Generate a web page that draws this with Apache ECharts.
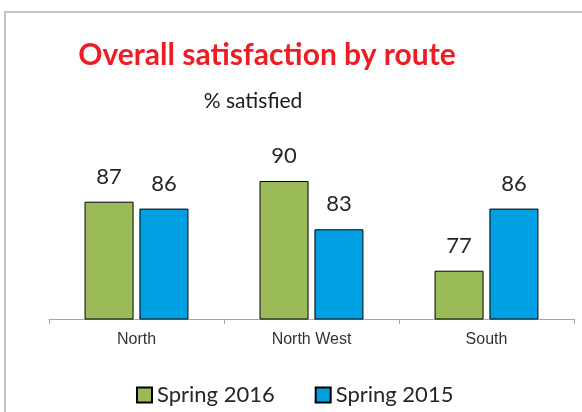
<!DOCTYPE html>
<html><head><meta charset="utf-8">
<script src="https://cdn.jsdelivr.net/npm/echarts@6/dist/echarts.min.js"></script>
<style>html,body{margin:0;padding:0;background:#fff}#c{width:582px;height:412px}</style>
</head><body><div id="c"></div>
<script>
const categories = ['North', 'North West', 'South'];
const spring2016 = [87, 90, 77];
const spring2015 = [86, 83, 86];
const seriesNames = ['Spring 2016', 'Spring 2015'];

const chart = echarts.init(document.getElementById('c'));
const lbl = {show: true, position: 'top', distance: 14, fontFamily: 'Lato', fontSize: 22, color: '#262626'};
chart.setOption({
  animation: false,
  graphic: [{type: 'rect', shape: {x: 5, y: 12, width: 700, height: 600}, style: {fill: 'none', stroke: '#c3c3c3', lineWidth: 2}, z: -1}],
  title: [
    {text: 'Overall satisfaction by route', left: 262, top: 35, textAlign: 'center',
     textStyle: {fontFamily: 'Lato', fontWeight: 'bold', fontSize: 30, color: '#ee1c25'}},
    {text: '% satisfied', left: 248, top: 86, textAlign: 'center',
     textStyle: {fontFamily: 'Lato', fontWeight: 'normal', fontSize: 21, color: '#1a1a1a'}}
  ],
  legend: {left: 131, top: 379, itemWidth: 15, itemHeight: 15, itemGap: 40, icon: 'rect',
    textStyle: {fontFamily: 'Lato', fontSize: 22, color: '#262626', padding: [0, 0, 0, 0]},
    data: seriesNames},
  grid: {left: 49, right: 8, top: 112, bottom: 93},
  xAxis: {type: 'category', data: categories,
    axisLine: {lineStyle: {color: '#a6a6a6', width: 1}},
    axisTick: {show: true, length: 5, lineStyle: {color: '#a6a6a6'}},
    axisLabel: {fontFamily: 'Liberation Sans', fontSize: 16, color: '#333', margin: 13}},
  yAxis: {type: 'value', min: 70, max: 100, show: false, splitLine: {show: false}},
  series: [
    {name: seriesNames[0], type: 'bar', data: spring2016, barWidth: 49, barGap: '12%',
     itemStyle: {color: '#9bbb59', borderColor: '#000', borderWidth: 1}, label: lbl},
    {name: seriesNames[1], type: 'bar', data: spring2015, barWidth: 49,
     itemStyle: {color: '#00a0e3', borderColor: '#000', borderWidth: 1}, label: lbl}
  ]
});
</script></body></html>
